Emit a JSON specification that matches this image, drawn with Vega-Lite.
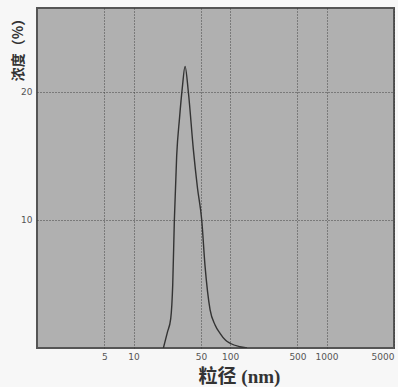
{
  "$schema": "https://vega.github.io/schema/vega-lite/v6.json",
  "width": 357,
  "height": 340,
  "autosize": {"type": "none"},
  "padding": {"left": 37, "top": 8, "right": 4, "bottom": 39},
  "background": "#f7f7f7",
  "config": {
    "view": {"fill": "#b0b0b0", "stroke": "#555555", "strokeWidth": 2},
    "axis": {
      "grid": true,
      "gridColor": "#3a3a3a",
      "gridDash": [1, 2],
      "gridWidth": 1,
      "gridOpacity": 0.9,
      "domain": false,
      "ticks": false,
      "labelColor": "#555555",
      "labelFontSize": 9,
      "labelFont": "DejaVu Sans",
      "titleColor": "#333333"
    }
  },
  "data": {
    "values": [
      {"size": 20.4, "conc": 0},
      {"size": 22.4, "conc": 1.2},
      {"size": 24.3, "conc": 2.3},
      {"size": 25.5, "conc": 5.0},
      {"size": 26.5, "conc": 10},
      {"size": 28.0, "conc": 15.0},
      {"size": 30.0, "conc": 18.0},
      {"size": 32.0, "conc": 20.3},
      {"size": 34.2, "conc": 22.0},
      {"size": 37.0, "conc": 20},
      {"size": 41.7, "conc": 15.5},
      {"size": 46.0, "conc": 12.5},
      {"size": 50.9, "conc": 10},
      {"size": 55.1, "conc": 6.4},
      {"size": 62.1, "conc": 3.0},
      {"size": 70.0, "conc": 1.8},
      {"size": 78.8, "conc": 1.15},
      {"size": 90.0, "conc": 0.6},
      {"size": 100.0, "conc": 0.37},
      {"size": 126.0, "conc": 0.1},
      {"size": 150.0, "conc": 0}
    ]
  },
  "mark": {"type": "line", "color": "#333333", "strokeWidth": 1.4, "clip": true, "interpolate": "monotone"},
  "encoding": {
    "x": {
      "field": "size",
      "type": "quantitative",
      "scale": {"type": "log", "domain": [1, 5000], "nice": false},
      "axis": {
        "values": [5, 10, 50, 100, 500, 1000, 5000],
        "format": "d",
        "labelPadding": 4,
        "labelFlush": true,
        "title": "粒径 (nm)",
        "titleFont": "Liberation Serif, Noto Sans CJK SC",
        "titleFontSize": 19,
        "titleFontWeight": "bold",
        "titleX": 202,
        "titleY": 38,
        "titleAlign": "center",
        "titleBaseline": "bottom"
      }
    },
    "y": {
      "field": "conc",
      "type": "quantitative",
      "scale": {"domain": [0, 26.56], "nice": false},
      "axis": {
        "values": [10, 20],
        "labelPadding": 5,
        "title": "浓度（%）",
        "titleFont": "Noto Sans CJK SC",
        "titleFontSize": 14,
        "titleFontWeight": "bold",
        "titleAngle": -90,
        "titleX": -19,
        "titleY": 38,
        "titleAlign": "center",
        "titleBaseline": "middle"
      }
    }
  }
}
